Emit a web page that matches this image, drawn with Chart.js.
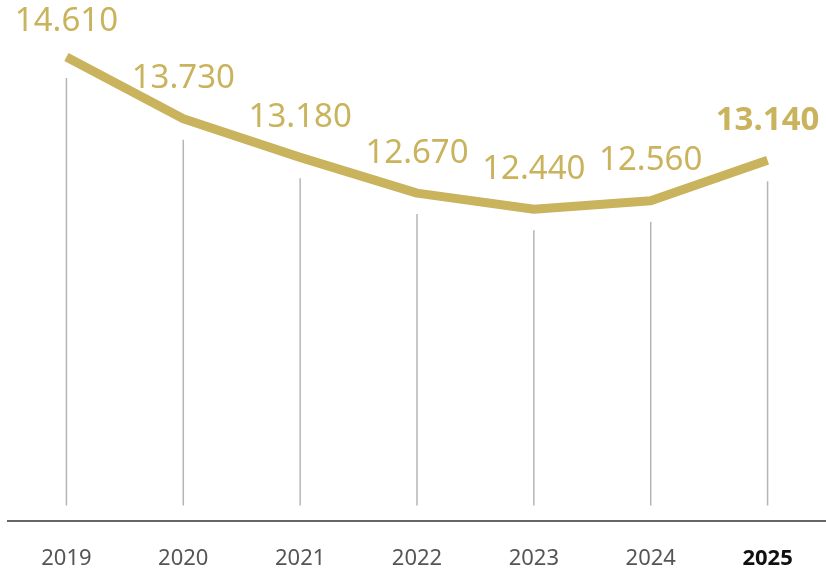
<!DOCTYPE html>
<html>
<head>
<meta charset="utf-8">
<script src="https://cdn.jsdelivr.net/npm/chart.js@4"></script>
<style>
  html, body { margin: 0; padding: 0; background: #fff; }
  #wrap { width: 826px; height: 573px; }
</style>
</head>
<body>
<div id="wrap"><canvas id="trend"></canvas></div>
<script>
const years = ["2019", "2020", "2021", "2022", "2023", "2024", "2025"];
const values = [14610, 13730, 13180, 12670, 12440, 12560, 13140];
const valueLabels = ["14.610", "13.730", "13.180", "12.670", "12.440", "12.560", "13.140"];

const gold = "#c9b35c";
const lastIdx = years.length - 1;

// drop lines from under each point to the baseline + value text above
const dropLines = {
  id: "dropLines",
  beforeDatasetsDraw(chart) {
    const { ctx, chartArea } = chart;
    const meta = chart.getDatasetMeta(0);
    ctx.save();
    ctx.strokeStyle = "#b5b5b5";
    ctx.lineWidth = 1.5;
    meta.data.forEach((pt) => {
      ctx.beginPath();
      ctx.moveTo(pt.x, pt.y + 21);
      ctx.lineTo(pt.x, chartArea.bottom - 15);
      ctx.stroke();
    });
    ctx.restore();
  },
  afterDatasetsDraw(chart) {
    const { ctx } = chart;
    const meta = chart.getDatasetMeta(0);
    ctx.save();
    ctx.fillStyle = gold;
    ctx.textAlign = "center";
    ctx.textBaseline = "middle";
    meta.data.forEach((pt, i) => {
      ctx.font = (i === lastIdx ? "bold " : "") + "33px 'Noto Sans'";
      let y = Math.max(pt.y - 40, 22);
      ctx.fillText(valueLabels[i], pt.x, y);
    });
    ctx.restore();
  }
};

const ctx = document.getElementById("trend");

new Chart(ctx, {
  type: "line",
  data: {
    labels: years,
    datasets: [
      {
        data: values,
        borderColor: gold,
        borderWidth: 9,
        pointRadius: 0,
        tension: 0,
        borderJoinStyle: "round"
      }
    ]
  },
  options: {
    responsive: true,
    maintainAspectRatio: false,
    animation: false,
    layout: {
      padding: { left: 8, right: 0, top: 0, bottom: -16 }
    },
    plugins: {
      legend: { display: false },
      tooltip: { enabled: false }
    },
    scales: {
      y: {
        display: false,
        min: 8000,
        max: 15424
      },
      x: {
        offset: true,
        grid: { display: false },
        border: { display: true, color: "#666", width: 2 },
        ticks: {
          padding: 17,
          color: (c) => (c.index === lastIdx ? "#111" : "#555"),
          font: (c) => ({
            family: "'Noto Sans'",
            size: 22,
            weight: c.index === lastIdx ? "bold" : "normal"
          })
        }
      }
    }
  },
  plugins: [dropLines]
});
</script>
</body>
</html>
